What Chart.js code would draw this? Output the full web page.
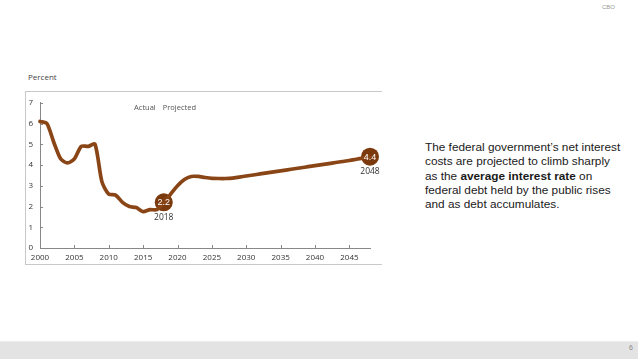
<!DOCTYPE html>
<html>
<head>
<meta charset="utf-8">
<script src="https://cdn.jsdelivr.net/npm/chart.js@4.4.1/dist/chart.umd.min.js"></script>
<style>
  html, body { margin:0; padding:0; width:638px; height:359px; background:#fff; overflow:hidden; font-family:"Liberation Sans", Arial, sans-serif; }
  #frame { position:absolute; left:25px; top:91px; width:357px; height:174px; border-top:1px solid #c8c8c8; border-bottom:1px solid #c8c8c8; border-left:1px solid #c8c8c8; box-sizing:border-box; }
  #c { position:absolute; left:25px; top:91px; }
  .lbl { position:absolute; white-space:nowrap; }
  #footer { position:absolute; left:0; top:341px; width:638px; height:18px; background:#e3e3e3; border-top:1px solid #ececec; box-sizing:border-box; }
  #txt { position:absolute; left:425px; top:140px; width:212px; font-size:11.8px; line-height:14.3px; color:#1a1a1a; }
</style>
</head>
<body>
<div class="lbl" style="left:602px; top:4px; font-size:6px; color:#999;">CBO</div>
<div class="lbl" style="left:28px; top:71px; font-size:8px; color:#444; font-family:'Open Sans',sans-serif;">Percent</div>
<div id="frame"></div>
<canvas id="c" width="357" height="174"></canvas>
<div id="txt">The federal government’s net interest<br>costs are projected to climb sharply<br>as the <b>average interest rate</b> on<br>federal debt held by the public rises<br>and as debt accumulates.</div>
<div id="footer"></div>
<div class="lbl" style="left:629px; top:344px; font-size:7px; color:#888;">6</div>
<script>
const years = [2000,2001,2002,2003,2004,2005,2006,2007,2008,2009,2010,2011,2012,2013,2014,2015,2016,2017,2018,
  2019,2020,2021,2022,2023,2024,2025,2026,2027,2028,2029,2030,2031,2032,2033,2034,2035,2036,2037,2038,2039,2040,2041,2042,2043,2044,2045,2046,2047,2048];
const rates = [6.1,6.0,5.1,4.3,4.1,4.3,4.9,4.9,5.0,3.2,2.6,2.55,2.2,2.0,1.95,1.75,1.85,1.85,2.2,
  2.6,3.0,3.3,3.45,3.45,3.4,3.36,3.35,3.35,3.37,3.42,3.47,3.52,3.57,3.62,3.67,3.72,3.77,3.82,3.87,3.92,3.97,4.02,4.07,4.12,4.17,4.22,4.28,4.34,4.4];
const markerYears = [2018, 2048];
const markerValues = [2.2, 4.4];
const markerYearLabels = ['2018', '2048'];
const sectionLabels = ['Actual', 'Projected'];
const xTicks = [2000,2005,2010,2015,2020,2025,2030,2035,2040,2045];
const yTicks = [0,1,2,3,4,5,6,7];

const lineColor = '#8a4516';
const dotColor = '#7a3a0e';

const overlay = {
  id: 'overlay',
  afterDatasetsDraw(chart) {
    const ctx = chart.ctx;
    const xs = chart.scales.x, ys = chart.scales.y;
    ctx.save();
    // inward tick marks
    ctx.strokeStyle = '#888'; ctx.lineWidth = 1;
    ctx.beginPath();
    yTicks.forEach(v => { const py = Math.round(ys.getPixelForValue(v)) + 0.5; ctx.moveTo(xs.left, py); ctx.lineTo(xs.left + 3, py); });
    xTicks.forEach(v => { const px = Math.round(xs.getPixelForValue(v)) + 0.5; ctx.moveTo(px, ys.bottom); ctx.lineTo(px, ys.bottom - 3); });
    ctx.stroke();
    // marker labels
    const meta = chart.getDatasetMeta(1);
    meta.data.forEach((pt, i) => {
      ctx.fillStyle = '#fff';
      ctx.font = '9px "Liberation Sans", Arial, sans-serif';
      ctx.textAlign = 'center'; ctx.textBaseline = 'middle';
      ctx.fillText(markerValues[i].toFixed(1), pt.x, pt.y + 0.5);
      ctx.fillStyle = '#333';
      ctx.font = '8.5px "Open Sans", sans-serif';
      ctx.fillText(markerYearLabels[i], pt.x, pt.y + 15);
    });
    // section labels
    ctx.fillStyle = '#555';
    ctx.font = '7.5px "Open Sans", sans-serif';
    ctx.textBaseline = 'middle';
    const bx = xs.getPixelForValue(markerYears[0]);
    ctx.textAlign = 'right';
    ctx.fillText(sectionLabels[0], bx - 8, ys.top + 5);
    ctx.textAlign = 'left';
    ctx.fillText(sectionLabels[1], bx - 1, ys.top + 5);
    ctx.restore();
  }
};

new Chart(document.getElementById('c'), {
  type: 'line',
  data: {
    datasets: [
      { data: years.map((y, i) => ({x: y, y: rates[i]})), borderColor: lineColor, borderWidth: 3.7, pointRadius: 0, tension: 0.25, borderCapStyle: 'round', borderJoinStyle: 'round', clip: false },
      { data: markerYears.map((y, i) => ({x: y, y: markerValues[i]})), showLine: false, pointRadius: 9, pointBackgroundColor: dotColor, pointBorderColor: dotColor, pointBorderWidth: 0, clip: false }
    ]
  },
  options: {
    responsive: false, animation: false, devicePixelRatio: 1,
    layout: { padding: { top: 5, right: 12, left: 0, bottom: 0 } },
    plugins: { legend: { display: false }, tooltip: { enabled: false } },
    scales: {
      x: {
        type: 'linear', min: 2000, max: 2048,
        afterBuildTicks(s) { s.ticks = xTicks.map(v => ({value: v})); },
        afterFit(s) { s.height = 17; },
        grid: { display: false, drawTicks: false },
        border: { display: true, color: '#888', width: 1 },
        ticks: { padding: 5, color: '#333', font: { family: 'Open Sans', size: 8 }, maxRotation: 0, callback: v => String(v) }
      },
      y: {
        min: 0, max: 7,
        afterBuildTicks(s) { s.ticks = yTicks.map(v => ({value: v})); },
        afterFit(s) { s.width = 15; },
        grid: { display: false, drawTicks: false },
        border: { display: true, color: '#888', width: 1 },
        ticks: { padding: 7, color: '#333', font: { family: 'Open Sans', size: 8 } }
      }
    }
  },
  plugins: [overlay]
});
</script>
</body>
</html>
